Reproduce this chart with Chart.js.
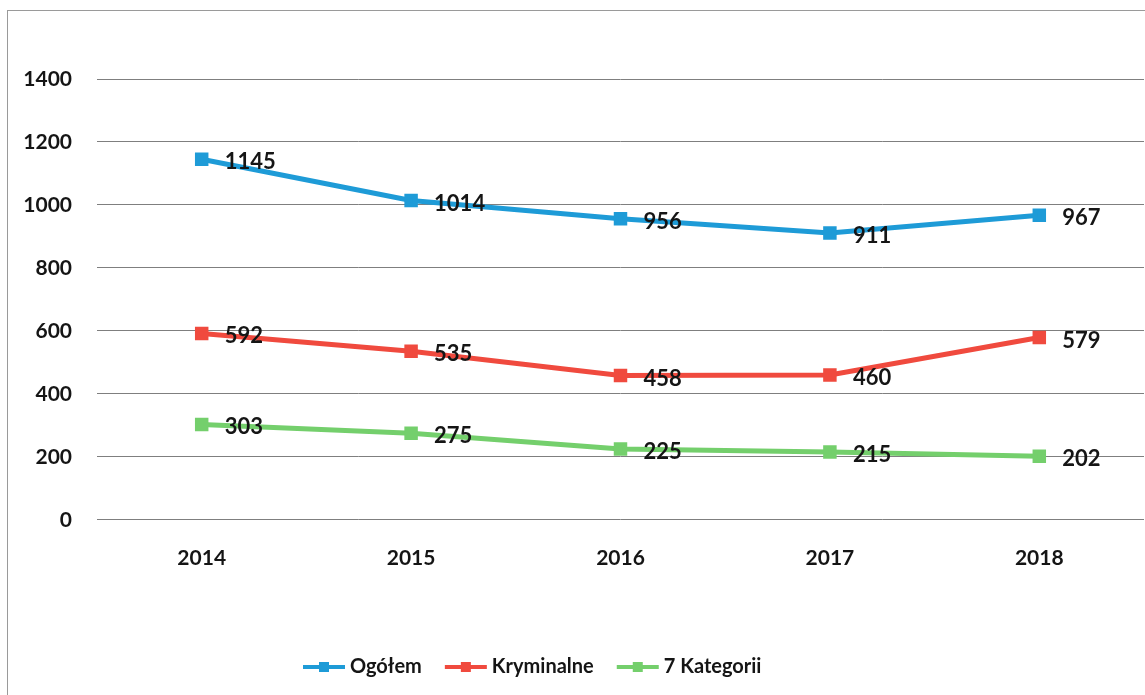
<!DOCTYPE html>
<html>
<head>
<meta charset="utf-8">
<script src="https://cdn.jsdelivr.net/npm/chart.js@4.4.1/dist/chart.umd.min.js"></script>
<style>
    html, body { margin: 0; padding: 0; background: #ffffff; overflow: hidden; }
    #frame {
        position: absolute; left: 7px; top: 10px; width: 1200px; height: 720px;
        border-left: 1px solid #9a9a9a; border-top: 1px solid #9a9a9a;
    }
    #wrap { position: absolute; left: 0; top: 0; width: 1155px; height: 695px; }
</style>
</head>
<body>
<div id="frame"></div>
<div id="wrap"><canvas id="chart" width="1155" height="695"></canvas></div>
<script>
// Data
const years = ['2014', '2015', '2016', '2017', '2018'];
const ogolem = [1145, 1014, 956, 911, 967];
const kryminalne = [592, 535, 458, 460, 579];
const kategorii7 = [303, 275, 225, 215, 202];
const yTicks = [0, 200, 400, 600, 800, 1000, 1200, 1400];

const colors = {
    blue: '#1e9bd7',
    red: '#f04a3e',
    green: '#74cf6c',
    text: '#151515',
    grid: '#7f7f7f'
};
const fontFamily = 'Lato, "Open Sans", sans-serif';

// value labels to the right of every point
const valueLabels = {
    id: 'valueLabels',
    afterDatasetsDraw(chart) {
        const ctx = chart.ctx;
        ctx.save();
        ctx.font = 'bold 22px ' + fontFamily;
        ctx.fillStyle = colors.text;
        ctx.textAlign = 'left';
        ctx.textBaseline = 'middle';
        chart.data.datasets.forEach((ds, i) => {
            chart.getDatasetMeta(i).data.forEach((pt, j) => {
                ctx.fillText(String(ds.data[j]), pt.x + 23, pt.y + 3);
            });
        });
        ctx.restore();
    }
};

// legend: line sample with square marker, like the office chart
const lineLegend = {
    id: 'lineLegend',
    afterDraw(chart) {
        const ctx = chart.ctx;
        ctx.save();
        ctx.font = 'bold 20px ' + fontFamily;
        ctx.textBaseline = 'middle';
        const y = 667, sample = 42, gap = 5, spacing = 23;
        let x = 303;
        chart.data.datasets.forEach(ds => {
            ctx.strokeStyle = ds.borderColor;
            ctx.lineWidth = 4;
            ctx.beginPath();
            ctx.moveTo(x, y);
            ctx.lineTo(x + sample, y);
            ctx.stroke();
            ctx.fillStyle = ds.borderColor;
            ctx.fillRect(x + sample / 2 - 5, y - 5, 10, 10);
            ctx.fillStyle = colors.text;
            ctx.fillText(ds.label, x + sample + gap, y);
            x += sample + gap + ctx.measureText(ds.label).width + spacing;
        });
        ctx.restore();
    }
};

function series(label, data, color) {
    return {
        label: label,
        data: data,
        borderColor: color,
        backgroundColor: color,
        borderWidth: 5,
        pointStyle: 'rect',
        pointRadius: 6,
        pointHoverRadius: 6,
        tension: 0
    };
}

new Chart(document.getElementById('chart'), {
    type: 'line',
    data: {
        labels: years,
        datasets: [
            series('Ogółem', ogolem, colors.blue),
            series('Kryminalne', kryminalne, colors.red),
            series('7 Kategorii', kategorii7, colors.green)
        ]
    },
    options: {
        responsive: false,
        animation: false,
        layout: { padding: { left: 0, right: 3, top: 79, bottom: 98 } },
        plugins: {
            legend: { display: false },
            tooltip: { enabled: false }
        },
        scales: {
            x: {
                offset: true,
                grid: { display: false, drawTicks: false },
                border: { display: false },
                ticks: {
                    padding: 26,
                    color: colors.text,
                    font: { family: fontFamily, size: 21, weight: 'bold' }
                }
            },
            y: {
                min: 0,
                max: 1400,
                afterFit(scale) { scale.width = 97; },
                afterBuildTicks(scale) { scale.ticks = yTicks.map(v => ({ value: v })); },
                grid: { color: colors.grid, lineWidth: 1, drawTicks: false },
                border: { display: false },
                ticks: {
                    padding: 25,
                    color: colors.text,
                    font: { family: fontFamily, size: 21, weight: 'bold' },
                    callback: v => String(v)
                }
            }
        }
    },
    plugins: [valueLabels, lineLegend]
});
</script>
</body>
</html>
